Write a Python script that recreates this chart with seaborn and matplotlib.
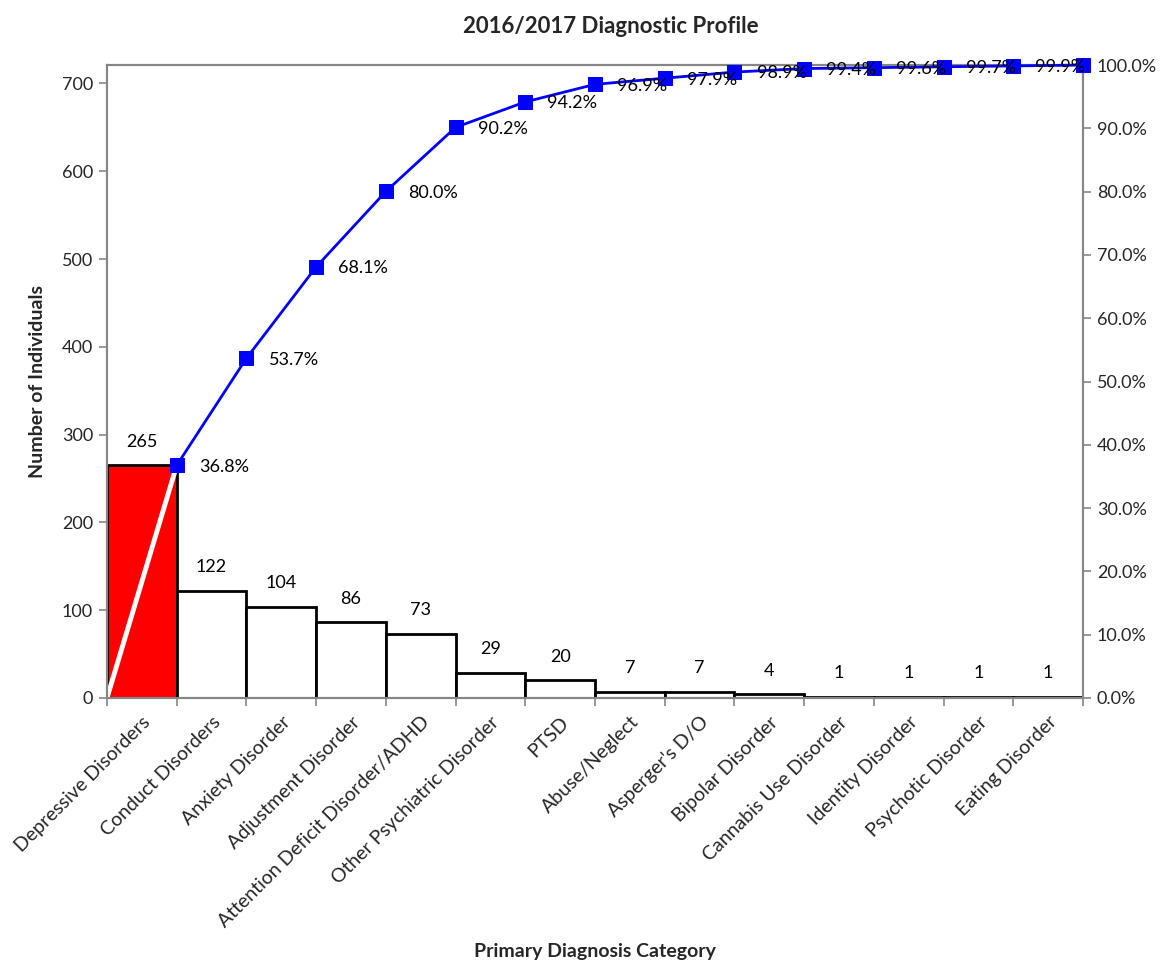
import numpy as np
import pandas as pd
import matplotlib
matplotlib.use("Agg")
import matplotlib.pyplot as plt
from matplotlib.ticker import PercentFormatter, FixedLocator
import seaborn as sns

categories = [
    "Depressive Disorders", "Conduct Disorders", "Anxiety Disorder",
    "Adjustment Disorder", "Attention Deficit Disorder/ADHD",
    "Other Psychiatric Disorder", "PTSD", "Abuse/Neglect", "Asperger's D/O",
    "Bipolar Disorder", "Cannabis Use Disorder", "Identity Disorder",
    "Psychotic Disorder", "Eating Disorder",
]
counts = [265, 122, 104, 86, 73, 29, 20, 7, 7, 4, 1, 1, 1, 1]

total = sum(counts)
cum_share = np.cumsum(counts) / total

sns.set_theme(style="white")
plt.rcParams["font.family"] = ["Lato", "DejaVu Sans"]

df = pd.DataFrame({"category": categories, "count": counts})
bar_colors = ["#ff0000"] + ["white"] * (len(categories) - 1)

fig = plt.figure(figsize=(11.72, 9.65), dpi=100)
ax = fig.add_axes([0.0913, 0.2767, 0.924 - 0.0913, 0.9326 - 0.2767])

sns.barplot(data=df, x="category", y="count", hue="category",
            palette=bar_colors, legend=False, width=1.0,
            edgecolor="black", linewidth=2, saturation=1, ax=ax)

n = len(categories)
ax.set_xlim(-0.5, n - 0.5)
ax.set_ylim(0, total)
ax.set_yticks(np.arange(0, 701, 100))

# Diagonal guide across the first bar
ax.plot([-0.5, 0.5], [0, counts[0]], color="white", lw=3.5, zorder=5,
        solid_capstyle="butt")

# Value labels above bars
for i, c in enumerate(counts):
    ax.annotate(str(c), (i, c), xytext=(0, 17), textcoords="offset points",
                ha="center", va="center", fontsize=13, color="black")

# Category labels at bar centres, tick marks at bar boundaries
ax.set_xticks(np.arange(n))
ax.set_xticklabels(categories, rotation=45, ha="right", va="top",
                   rotation_mode="anchor", fontsize=14)
ax.xaxis.set_minor_locator(FixedLocator(np.arange(-0.5, n, 1.0)))
ax.tick_params(axis="x", which="major", length=0, pad=11)
ax.tick_params(axis="x", which="minor", length=6, width=1.2,
               color="#868686", direction="out", bottom=True)
ax.tick_params(axis="y", length=6, width=1.2, color="#868686",
               direction="out", left=True, labelsize=13, pad=4)

ax.set_xlabel("Primary Diagnosis Category", fontsize=14, fontweight="bold",
              va="center")
ax.xaxis.set_label_coords(0.5, -0.401)
ax.set_ylabel("Number of Individuals", fontsize=14, fontweight="bold",
              va="center")
ax.yaxis.set_label_coords(-0.071, 0.5)

for side in ["left", "bottom", "top", "right"]:
    ax.spines[side].set_color("#868686")
    ax.spines[side].set_linewidth(1.5)

# Cumulative percentage on the secondary axis
ax2 = ax.twinx()
x_cum = np.arange(n) + 0.5
sns.lineplot(x=x_cum, y=cum_share, ax=ax2, color="#0000ff", lw=2,
             marker="s", markersize=10.5, markeredgecolor="#0000ff",
             clip_on=False, zorder=6)
ax2.set_ylim(0, 1)
ax2.set_xlim(-0.5, n - 0.5)
ax2.set_yticks(np.arange(0, 1.01, 0.1))
ax2.yaxis.set_major_formatter(PercentFormatter(1.0, decimals=1))
ax2.tick_params(axis="y", length=6, width=1.2, color="#868686",
                direction="out", right=True, labelsize=13, pad=4)
for side in ["left", "bottom", "top", "right"]:
    ax2.spines[side].set_color("#868686")
    ax2.spines[side].set_linewidth(1.5)

for xi, p in zip(x_cum[:-1], cum_share[:-1]):
    ax2.annotate(f"{p * 100:.1f}%", (xi, p), xytext=(16, -1),
                 textcoords="offset points", ha="left", va="center",
                 fontsize=13, color="black", annotation_clip=False, zorder=7)

fig.suptitle("2016/2017 Diagnostic Profile", x=0.521, y=0.983, fontsize=16,
             fontweight="bold")

fig.savefig("out.png", dpi=100, facecolor="white")
